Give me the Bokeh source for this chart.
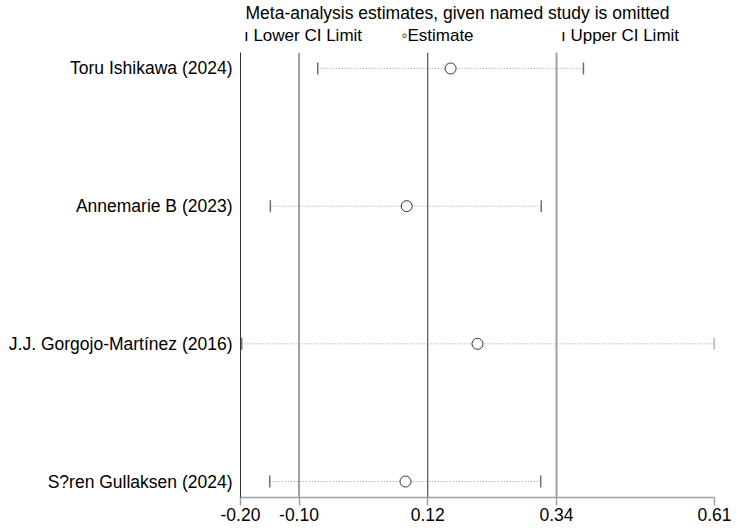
import numpy as np
from bokeh.plotting import figure
from bokeh.models import (ColumnDataSource, Span, FixedTicker, Range1d, LinearAxis)
from bokeh.embed import file_html
from bokeh.resources import INLINE

# ---- data ----
studies = ["Toru Ishikawa (2024)", "Annemarie B (2023)",
           "J.J. Gorgojo-Martínez (2016)", "S?ren Gullaksen (2024)"]
estimate = [0.159, 0.084, 0.205, 0.082]
lower_ci = [-0.068, -0.149, -0.198, -0.150]
upper_ci = [0.386, 0.314, 0.610, 0.313]
overall_est = 0.12
overall_lower = -0.10
overall_upper = 0.34
x_ticks = [-0.20, -0.10, 0.12, 0.34, 0.61]
x_tick_labels = ["-0.20", "-0.10", "0.12", "0.34", "0.61"]
x_min, x_max = -0.20, 0.61
title_text = "Meta-analysis estimates, given named study is omitted"
legend_labels = ["ı Lower CI Limit", "◦Estimate", "ı Upper CI Limit"]

FONT = "Liberation Sans"
FS = "17px"

rows = list(range(1, len(studies) + 1))
src = ColumnDataSource(dict(y=rows, est=estimate, lo=lower_ci, hi=upper_ci))

W, H = 738, 528
BL, BR, BT, BB = 240, 24, 52, 31

p = figure(width=W, height=H, output_backend="svg", toolbar_location=None,
           x_range=Range1d(x_min, x_max),
           y_range=Range1d(len(studies) + 0.116, 1 - 0.116),
           min_border_left=BL, min_border_right=BR, min_border_top=BT, min_border_bottom=BB)
p.outline_line_color = None
p.xgrid.visible = False
p.ygrid.visible = False
p.background_fill_color = "white"
p.border_fill_color = "white"

xa = p.below[0]
ya = p.left[0]

# reference lines at overall estimate & CI
for loc, col, w in [(overall_lower, "#a0a0a0", 2), (overall_est, "#333333", 1), (overall_upper, "#a0a0a0", 2)]:
    p.add_layout(Span(location=loc, dimension="height", line_color=col, line_width=w, level="underlay"))

# CI dotted lines
p.segment(x0="lo", y0="y", x1="hi", y1="y", source=src, line_color="#9a9a9a",
          line_dash="1 2", line_width=1)
p.scatter(x="lo", y="y", source=src, marker="dash", angle=np.pi / 2, size=12,
          line_color="#707070", line_width=1.5)
p.scatter(x="hi", y="y", source=src, marker="dash", angle=np.pi / 2, size=12,
          line_color="#707070", line_width=1.5)
p.scatter(x="est", y="y", source=src, marker="circle", size=11,
          fill_color="white", line_color="#333333", line_width=1)

# title
p.title.text = title_text
p.title.align = "left"
p.title.offset = 5
p.title.text_font = FONT
p.title.text_font_size = "17.5px"
p.title.text_font_style = "normal"
p.title.text_color = "black"
p.title.standoff = 0

# legend row, laid out as a label-only axis on a pixel-scaled helper range
p.extra_x_ranges = {"px": Range1d(BL, W - BR)}
legend_centers_px = [302.5, 437, 619.5]
leg_axis = LinearAxis(x_range_name="px", ticker=FixedTicker(ticks=legend_centers_px),
                      major_label_overrides={c: t for c, t in zip(legend_centers_px, legend_labels)})
leg_axis.axis_line_color = None
leg_axis.major_tick_line_color = None
leg_axis.minor_tick_line_color = None
leg_axis.major_tick_out = 0
leg_axis.major_tick_in = 0
leg_axis.major_label_standoff = 8
leg_axis.major_label_text_font = FONT
leg_axis.major_label_text_font_size = FS
leg_axis.major_label_text_color = "black"
p.add_layout(leg_axis, "above")

# bottom axis
xa.ticker = FixedTicker(ticks=x_ticks)
xa.major_label_overrides = {t: l for t, l in zip(x_ticks, x_tick_labels)}
xa.axis_line_color = "#a0a0a0"
xa.axis_line_width = 1.5
xa.major_tick_line_color = "#a0a0a0"
xa.major_tick_line_width = 1.5
xa.major_tick_out = 8
xa.major_tick_in = 0
xa.minor_tick_line_color = None
xa.major_label_standoff = 2
xa.major_label_text_font = FONT
xa.major_label_text_font_size = "17.5px"
xa.major_label_text_color = "black"

# left axis with study names
ya.ticker = FixedTicker(ticks=rows)
ya.major_label_overrides = {r: s for r, s in zip(rows, studies)}
ya.axis_line_color = "#333333"
ya.axis_line_width = 1
ya.major_tick_line_color = None
ya.minor_tick_line_color = None
ya.major_tick_out = 0
ya.major_tick_in = 0
ya.major_label_standoff = 8
ya.major_label_text_font = FONT
ya.major_label_text_font_size = "17.5px"
ya.major_label_text_color = "black"

open("out.html", "w").write(file_html(p, INLINE))
